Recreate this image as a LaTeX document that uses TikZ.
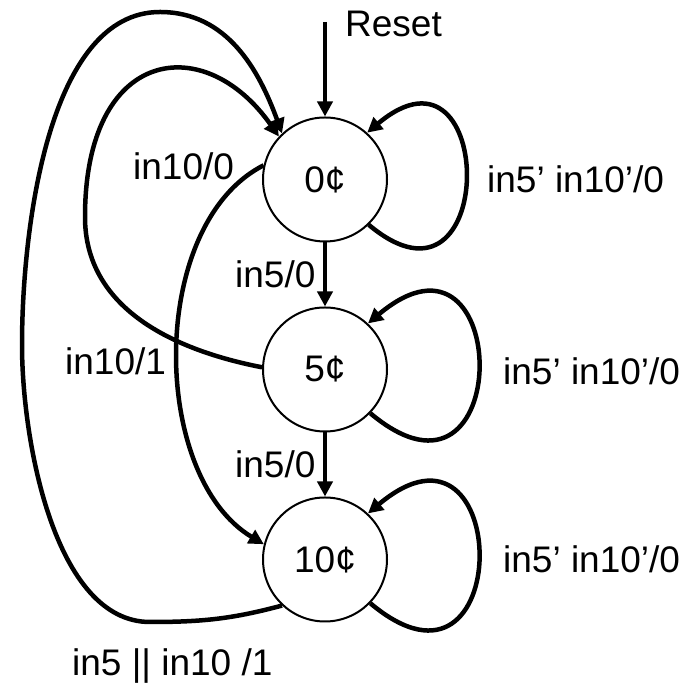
\documentclass[tikz,border=0pt]{standalone}
\usepackage{fontspec}
\setmainfont{Liberation Sans}
\usetikzlibrary{positioning,arrows.meta}

\begin{document}
\begin{tikzpicture}[x=1pt,y=1pt,node distance=64pt,
    every node/.style={font=\fontsize{37}{44}\selectfont},
    state/.style={draw,circle,line width=2pt,minimum size=124pt,inner sep=0pt},
    lbl/.style={anchor=base west,inner sep=0pt},
    trans/.style={line width=4.5pt,-{Triangle[length=15pt,width=15pt]}}]

  \useasboundingbox (0,0) rectangle (689,687);

  \node[state] (s0) at (325,507.5) {0¢};
  \node[state,below=of s0] (s5) {5¢};
  \node[state,below=of s5] (s10) {10¢};

  \coordinate (rst) at (325,665);
  \node[lbl] (reset) at (345,650) {Reset};

  \node[lbl] (l00) at (133,507) {in10/0};
  \node[lbl] (l05) at (235,399) {in5/0};
  \node[lbl] (l50) at (65,312) {in10/1};
  \node[lbl] (l510) at (235,209) {in5/0};
  \node[lbl] (l100) at (72,11) {in5 || in10 /1};

  \node[lbl] (lp0) at (487,494) {in5’ in10’/0};
  \node[lbl] (lp5) at (503,302) {in5’ in10’/0};
  \node[lbl] (lp10) at (503,114) {in5’ in10’/0};

  \draw[trans] (rst) -- (s0);
  \draw[trans] (s0) -- (s5);
  \draw[trans] (s5) -- (s10);

  % self loops
  \draw[trans] (s0.-46) .. controls +(-40:170) and +(40:170) .. (s0.48);
  \draw[trans] (s5.-44) .. controls +(-40:190) and +(40:190) .. (s5.47);
  \draw[trans] (s10.-44) .. controls +(-40:190) and +(40:190) .. (s10.47);

  % long way round
  \draw[trans] (s0.167) .. controls +(207:130) and +(149:133) .. (s10.166);
  \draw[trans] (s5.178) to[out=169,in=-90] (85,470)
    to[out=90,in=125,out distance=170pt,in distance=130pt] (s0.137);
  \draw[trans] (s10.227) to[out=195,in=0] (150,65)
    to[out=180,in=-90,looseness=0.8] (22,342)
    to[out=90,in=180,looseness=0.8] (160,675)
    to[out=0,in=110] (s0.133);
\end{tikzpicture}
\end{document}
